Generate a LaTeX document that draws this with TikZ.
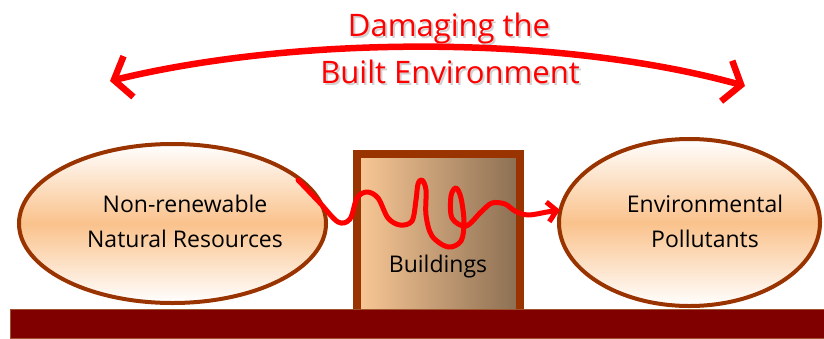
\documentclass[tikz,border=0pt]{standalone}
\usepackage{fontspec}
\setmainfont{Open Sans}
\usetikzlibrary{shapes.geometric,arrows.meta}
\definecolor{rim}{HTML}{993300}
\definecolor{peach}{HTML}{FAC28C}
\definecolor{boxlight}{HTML}{FAC896}
\definecolor{boxdark}{HTML}{8A6E52}
\definecolor{soil}{HTML}{800000}
\definecolor{soiledge}{HTML}{A0522D}
\definecolor{alarm}{HTML}{FF0000}
\tikzset{
  resource/.style={ellipse, draw=rim, line width=4pt, inner sep=0pt,
    top color=white, bottom color=white, middle color=peach},
  caption/.style={align=center, font=\fontsize{23}{35}\selectfont},
  building/.style={rectangle, draw=rim, line width=8pt, inner sep=0pt,
    left color=boxlight, right color=boxdark},
  headline/.style={font=\fontsize{31}{34}\selectfont, text=alarm},
  headshadow/.style={font=\fontsize{31}{34}\selectfont, text=black!18},
  flow/.style={draw=alarm, line width=5pt, line cap=round, line join=round},
  span/.style={draw=alarm, line width=6.5pt, line cap=round, line join=round}
}
\begin{document}
\begin{tikzpicture}[x=1pt,y=-1pt]
\useasboundingbox (0,0) rectangle (824,338);

% building block, partly sunk into the ground
\node[building, minimum width=163pt, minimum height=170pt] (bld) at (438.5,239) {};
\node[font=\fontsize{23}{26}\selectfont] (bldtxt) at (438,267) {Buildings};

% the two resource pools
\node[resource, minimum width=307pt, minimum height=159pt] (src) at (172.5,223.5) {};
\node[caption] (srctxt) at (185,221) {Non-renewable\\Natural Resources};
\node[resource, minimum width=261pt, minimum height=167pt] (dst) at (689.5,222.5) {};
\node[caption] (dsttxt) at (705,221) {Environmental\\Pollutants};

% ground strip
\node[rectangle, fill=soil, draw=soiledge, line width=0.6pt, inner sep=0pt,
  minimum width=814pt, minimum height=29pt, anchor=north west] (ground) at (10,309) {};

% tangled flow from resources through buildings to pollutants
\coordinate (fstart) at (298,180);
\coordinate (fend) at (560,210);
\draw[flow, -{Straight Barb[length=9pt,width=20pt]}]
  plot[smooth, tension=0.55] coordinates {
    (fstart) (320,203) (338,222) (350,219) (357,198) (367,192) (378,198)
    (388,218) (400,225) (412,221) (416,200) (418,184) (422,180) (426,190)
    (426,215) (432,236) (448,247) (461,241) (464,222) (461,198) (456,188)
    (451,196) (452,218) (466,226) (481,212) (492,203) (505,204) (515,211)
    (528,215) (547,212) (fend)};

% heading with its soft shadow
\node[headshadow] (t1s) at (451,30) {Damaging the};
\node[headshadow] (t2s) at (452,74) {Built Environment};
\node[headline] (t1) at (449,28) {Damaging the};
\node[headline] (t2) at (450,72) {Built Environment};

% double-headed arc spanning the scene
\coordinate (aleft) at (110,81);
\coordinate (aright) at (745,86);
\draw[span, {Straight Barb[length=15pt,width=42pt]}-{Straight Barb[length=15pt,width=42pt]}]
  (aleft) .. controls (300,35) and (560,35) .. (aright);
\end{tikzpicture}
\end{document}
